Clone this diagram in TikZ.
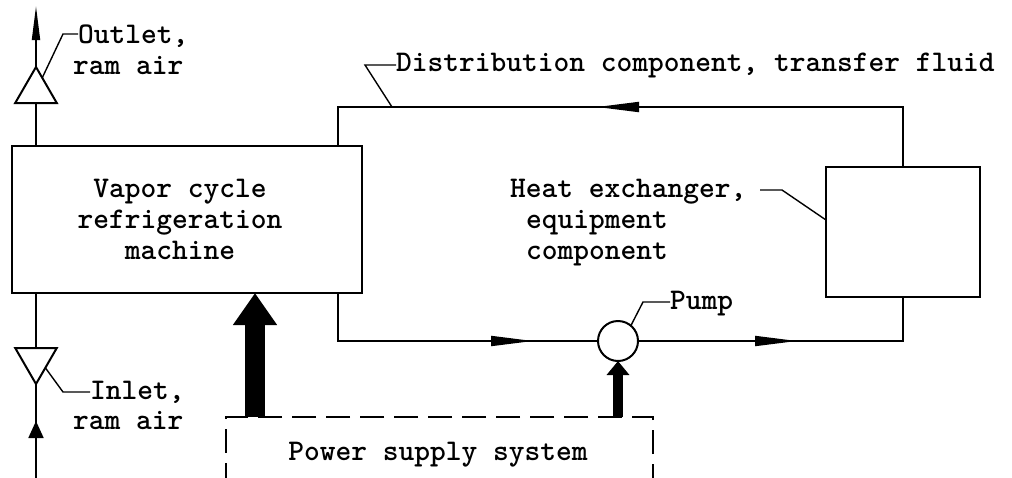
\documentclass[tikz,border=0pt]{standalone}
\usepackage{fontspec}
\usetikzlibrary{arrows.meta,shapes.geometric,calc}
\begin{document}
\begin{tikzpicture}[x=1pt,y=-1pt,
  box/.style={draw,line width=2.2pt,rectangle,inner sep=0pt,outer sep=0pt},
  pipe/.style={line width=1.8pt},
  leader/.style={line width=1.4pt},
  txt/.style={font=\ttfamily\bfseries\fontsize{30}{31}\selectfont,inner sep=0pt},
  tri/.style={draw,line width=2pt,regular polygon,regular polygon sides=3,minimum size=48pt,inner sep=0pt,outer sep=0pt},
  midarrow/.style={line width=1.8pt,-{Triangle[length=42pt,width=10pt]}},
]
\clip (0,0) rectangle (1012,477);
\fill[white] (0,0) rectangle (1012,477);

% main components
\node[box,minimum width=350pt,minimum height=147pt] (vap) at (187,219.5) {};
\node[box,minimum width=154pt,minimum height=130pt] (hx) at (903,232) {};
\node[draw,circle,line width=2pt,minimum size=40pt,inner sep=0pt,outer sep=0pt] (pump) at (618,341) {};
\node[draw,dashed,dash pattern=on 24pt off 10pt,line width=1.6pt,rectangle,minimum width=427pt,minimum height=120pt,inner sep=0pt,outer sep=0pt,anchor=north] (ps) at (439.5,417) {};
\node[tri] (out) at (36,91) {};
\node[tri,shape border rotate=180] (inl) at (36,360) {};

% texts
\node[txt,anchor=base] (v1) at (180,197) {Vapor cycle};
\node[txt,anchor=base] (v2) at (180,228) {refrigeration};
\node[txt,anchor=base] (v3) at (180,259) {machine};
\node[txt,anchor=base west] (h1) at (510,197) {Heat exchanger,};
\node[txt,anchor=base west] (h2) at (526,228) {equipment};
\node[txt,anchor=base west] (h3) at (526,259) {component};
\node[txt,anchor=base west] (dl) at (396,71) {Distribution component, transfer fluid};
\node[txt,anchor=base west] (pl) at (670,309) {Pump};
\node[txt,anchor=base west] (o1) at (78,43) {Outlet,};
\node[txt,anchor=base west] (o2) at (73,74) {ram air};
\node[txt,anchor=base west] (i1) at (90,399) {Inlet,};
\node[txt,anchor=base west] (i2) at (73,429) {ram air};
\node[txt,anchor=base] (pst) at (438,460) {Power supply system};

% coordinates
\coordinate (t1) at (338,107);
\coordinate (t2) at (903,107);
\coordinate (b1) at (338,341);
\coordinate (b2) at (903,341);
\coordinate (ta) at (597,107);
\coordinate (ba) at (533,341);
\coordinate (ca) at (797,341);
\coordinate (otip) at (36,6);
\coordinate (ibot) at (36,480);
\coordinate (itip) at (36,421);

% fluid loop
\draw[pipe] (vap.north -| t1) -- (t1) -- (t2) -- (hx.north);
\draw[pipe] (vap.south -| b1) -- (b1) -- (pump.west);
\draw[pipe] (pump.east) -- (b2) -- (hx.south);
\draw[midarrow] (t2) -- (ta);
\draw[midarrow] (b1) -- (ba);
\draw[midarrow] (pump.east) -- (ca);

% ram air
\draw[pipe,-{Triangle[length=34pt,width=8pt]}] (out.corner 1) -- (otip);
\draw[pipe] (out.south) -- (out.south |- vap.north);
\draw[pipe] (vap.south -| inl.north) -- (inl.north);
\draw[pipe] (ibot) -- (inl.corner 1);
\draw[pipe,-{Triangle[length=17pt,width=15pt]}] (ibot) -- (itip);

% power
\draw[line width=20pt,-{Triangle[length=32pt,width=42pt]}] (ps.north -| 255,0) -- (vap.south -| 255,0);
\draw[line width=10pt,-{Triangle[length=14pt,width=22pt]}] (ps.north -| pump.south) -- (pump.south);

% leaders
\draw[leader] ($(out.corner 1)!0.3!(out.corner 3)$) -- (63,34) -- (o1.west |- 0,34);
\draw[leader] ($(inl.corner 1)!0.45!(inl.corner 2)$) -- (63,392) -- (i1.west |- 0,392);
\draw[leader] (392,107) -- (365,65) -- (dl.west |- 0,65);
\draw[leader] (hx.west |- 0,220) -- (782,190) -- (760,190);
\draw[leader] (pump.50) -- (643,302) -- (pl.west |- 0,302);
\end{tikzpicture}
\end{document}
